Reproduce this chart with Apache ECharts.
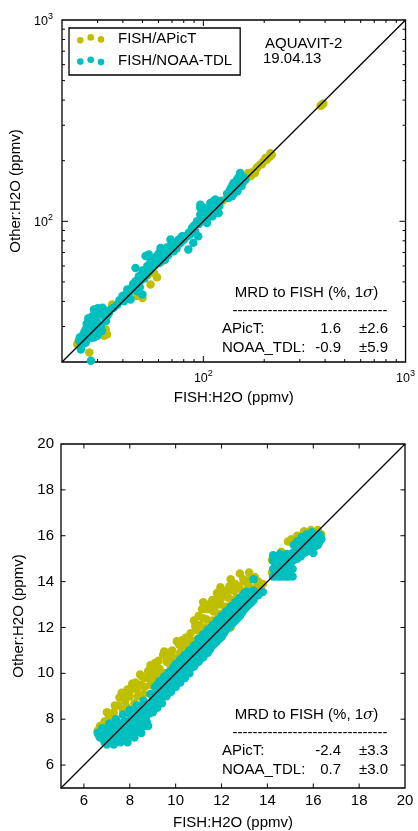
<!DOCTYPE html>
<html><head><meta charset="utf-8">
<script src="https://cdn.jsdelivr.net/npm/echarts@6/dist/echarts.min.js"></script>
<style>html,body{margin:0;padding:0;background:#fff}#c{width:418px;height:831px}</style>
</head><body><div id="c"></div>
<script>
// ---------------- data ----------------
const legendNames = ['FISH/APicT', 'FISH/NOAA-TDL'];
const campaign = ['AQUAVIT-2', '19.04.13'];
const xTitle = 'FISH:H2O (ppmv)';
const yTitle = 'Other:H2O (ppmv)';
const statTitle = 'MRD to FISH (%, 1';
const statNames = ['APicT:', 'NOAA_TDL:'];
const topStats = [[1.6, 2.6], [-0.9, 5.9]];
const bottomStats = [[-2.4, 3.3], [0.7, 3.0]];
const topRange = [20, 1000];
const bottomRange = [5, 20];
const topMajorTicks = [100];
const topMinorTicks = [30, 40, 50, 60, 70, 80, 90, 200, 300, 400, 500, 600, 700, 800, 900];
const bottomTicks = [6, 8, 10, 12, 14, 16, 18];

const topYellow = [
[23.8,24.5],[24.2,25.5],[27.3,22.3],[32.3,27.0],[33.4,27.4],[32.9,29.0],[35.4,38.6],[29,30],[26,27],
[40,41],[44,45],[47.2,42.5],[50,41.6],[54.8,48.6],[53,54],[57,55.4],[59,52.7],[62,63],[75,76],
[90,91],[105,106],[125,127],[150,151],[158,157],[164,164],[167,174],[170.4,170.5],[172,168],[176.8,176.5],
[180,174],[183,182.5],[185,186],[190.8,191],[195,192],[198,198],[203,206],[206,202],[210,208],
[213.7,210],[215,218],[218,214],[380,375],[386,378],[392,385]
];
const topCyan = [
[24.3,25.5],[25.2,27.0],[26.2,29.0],[27.3,31.0],[28.3,33.8],[28.8,36.5],[31.7,37.2],[27.8,26.4],
[29.9,27.0],[26.2,24.9],[24.8,24.0],[31.1,30.2],[32.3,33.8],[34.1,35.0],[36.0,37.2],[27.8,20.3],
[29.4,32.0],[25.5,25.8],[26.8,27.5],[28.5,29.5],[30.0,31.5],[27.0,33.0],[30.5,34.5],[24.8,23.1],
[31.5,28.5],[33.0,32.0],[29.0,28.0],[26.5,31.0],[32.5,36.0],[30.0,37.0],
[25.8,28.2],[27.5,28.8],[28.0,31.8],[29.5,34.0],[31.0,35.5],[33.5,34.0],[34.8,36.5],[26.0,26.0],
[28.8,26.5],[30.8,29.2],[25.0,25.0],[24.5,26.5],
[37.5,38.5],[38.5,40.5],[39.8,42.5],[40,41.5],[40.5,40.1],[41,43],[42.1,45.9],[43,44],[43.7,40.9],
[44,46],[44.6,47.4],[45,49],[46.2,50.3],[46.2,58.6],[47,48.5],[47.2,44.9],[48.0,53.4],[48.5,47],
[49,51],[50.0,43.3],[50,57],[50.8,55.4],[51,52],[52,54],[52.8,59.8],[53.5,56],[53.7,68.4],[51.8,67.2],
[54.8,63.4],[54.8,57.7],[55.5,59],[56,61],[57,63],[57.5,60.5],[58.0,66.2],[59,64],[60,69],[60.5,62],
[61.4,73.7],[62,66],[63,67],[63.4,72.4],[64.5,64.5],[65,70],[66,74],[67,68],[68,71],[68.8,81.1],
[69.5,77],[70,75],[71.4,71.0],[72.8,76.6],[73.5,73],[74,79],[75.6,81.1],[77,78],
[78.5,84.3],[80,81],[81.5,84.3],[83,84],[84.3,72.4],[85,88],[86,86],[87.9,90.9],[88,93],[89.2,78.3],
[90,95],[91,89],[92,97],[93.1,100],[94.3,84.3],[95,97],[96.6,107.9],[96.6,116.6],[96.6,120.9],[98,101],
[99,104],[100.4,116.6],[101,103],[102,112],[103,110],[104.3,98.0],[105,104],[106,108],[107,114],
[108.3,123.2],[109,117],[110.3,110.1],[111,106],[112,120],[112.4,125.8],[113,113],[114.6,128.2],
[115,116],[116.6,118.6],[117,124],[118,122],[119,110],[120,119],[121.3,126.0],
[131,137],[132,133],[133,130.5],[134,140],[135.8,143.6],[136,137],[137,146],[138.5,133],[139,150],
[140,142],[141,155],[142,138],[143,147],[144,152],[145,145],[146.5,161],[147.5,141],[148,152],
[149,165],[150,158],[151,152],[152,174],[153,160],[154.5,149.6],[156,156],[157,162],[158,166],[161,161]
];
const bottomYellow = [
[6.6,7.5],[6.7,7.7],[6.9,7.9],[7.0,8.3],[7.1,8.1],[7.2,7.6],[7.3,8.3],[7.35,8.6],[7.4,8.0],[7.5,8.6],
[7.55,8.95],[7.65,9.15],[7.7,8.4],[7.75,9.1],[7.8,8.8],[7.85,8.55],[7.9,9.3],[8.0,9.0],[8.05,9.3],
[8.1,9.55],[8.2,8.7],[8.25,9.6],[8.3,9.3],[8.35,9.0],[8.45,9.95],[8.5,9.5],[8.55,9.85],[8.6,9.1],
[8.65,9.4],[8.7,9.8],[8.8,10.1],[8.9,10.35],[8.9,9.5],[8.95,9.75],[9.0,10.0],[9.05,10.25],[9.1,10.45],
[9.2,9.8],[9.25,10.55],[9.3,10.2],[9.35,10.0],[9.45,10.8],[9.5,10.95],[9.5,10.0],[9.6,10.5],
[9.65,10.75],[9.7,10.9],[9.75,10.4],[9.8,10.3],[9.85,11.0],[9.9,10.7],[9.95,10.5],[10.05,11.4],
[10.1,10.5],[10.15,11.25],[10.2,10.9],[10.25,10.7],[10.3,11.45],[10.35,11.2],[10.4,10.8],
[10.45,11.55],[10.5,11.2],[10.55,10.95],[10.6,11.5],[10.65,11.75],[10.7,11.0],[10.75,11.3],
[10.8,12.3],[10.8,11.4],[10.85,12.05],[10.9,11.9],[10.95,11.5],[11.0,12.5],[11.0,11.2],[11.05,12.1],
[11.1,11.7],[11.15,12.8],[11.2,13.1],[11.2,12.4],[11.25,11.8],[11.3,12.0],[11.35,12.35],[11.4,12.8],
[11.45,13.0],[11.5,11.6],[11.55,12.0],[11.6,13.2],[11.6,12.3],[11.65,12.7],[11.7,12.9],[11.75,13.2],
[11.8,13.5],[11.8,12.1],[11.85,12.4],[11.9,12.6],[11.95,13.75],[11.95,13.0],[12.0,13.3],[12.05,13.6],
[12.1,12.4],[12.15,12.7],[12.2,12.9],[12.2,13.6],[12.25,13.4],[12.3,13.3],[12.35,13.8],[12.4,14.1],
[12.4,12.7],[12.4,12.0],[12.45,13.0],[12.5,13.2],[12.55,13.6],[12.6,13.9],[12.65,13.3],[12.7,13.0],
[12.75,13.8],[12.8,14.35],[12.85,13.3],[12.9,13.6],[12.95,14.1],[13.0,14.0],[13.05,13.6],[13.1,13.3],
[13.15,13.9],[13.2,14.4],[13.25,14.1],[13.3,13.7],[13.35,13.5],[13.45,14.2],[13.5,13.6],[13.55,13.8],
[13.6,14.0],[13.7,13.75],[13.8,13.9],
[14.2,14.95],[14.45,15.0],[14.9,15.75],[15.05,15.85],[15.3,16.0],[15.6,16.2],[15.9,16.25],[16.2,16.25],
[16.35,16.05],[14.6,15.3],[15.2,15.6],[16.3,15.8],[14.2,14.4],[15.0,15.0],[15.7,15.6]
];
const bottomCyan = [
[6.6,7.4],[6.65,7.3],[6.7,7.2],[6.75,7.45],[6.8,7.6],[6.8,7.3],[6.85,7.5],[6.9,7.0],[6.95,7.25],
[7.0,7.4],[7.0,6.9],[7.0,7.1],[7.05,7.6],[7.05,7.0],[7.1,7.8],[7.1,7.3],[7.15,7.0],[7.2,7.2],[7.2,7.5],
[7.25,7.35],[7.25,7.05],[7.3,6.9],[7.3,7.6],[7.35,7.75],[7.4,8.0],[7.4,7.4],[7.45,7.1],[7.45,7.85],
[7.5,7.3],[7.55,7.5],[7.55,7.05],[7.6,7.0],[7.6,7.7],[7.65,7.25],[7.7,8.2],[7.7,7.55],[7.75,7.9],
[7.8,7.4],[7.8,7.1],[7.85,7.15],[7.9,7.0],[7.9,7.9],[7.95,7.6],[8.0,8.4],[8.0,7.3],[8.05,8.15],
[8.05,7.8],[8.1,7.6],[8.15,7.35],[8.2,7.2],[8.2,8.1],[8.25,7.85],[8.3,8.6],[8.3,7.45],[8.3,8.1],
[8.35,8.35],[8.4,7.8],[8.4,8.55],[8.45,7.6],[8.5,7.4],[8.5,8.3],[8.55,8.05],[8.6,8.8],[8.6,7.7],
[8.65,8.55],[8.7,8.0],[8.7,8.3],[8.75,7.85],[8.8,7.7],[8.8,8.5],[8.85,8.25],[8.9,9.1],[8.95,8.65],
[9.0,8.3],[9.0,8.8],[9.1,8.65],[9.1,9.05],[9.1,9.4],[9.2,8.5],[9.2,9.0],[9.2,9.5],[9.3,8.85],
[9.3,9.25],[9.3,9.65],[9.4,8.7],[9.4,9.2],[9.4,9.7],[9.5,9.05],[9.5,9.45],[9.5,9.85],[9.6,9.0],
[9.6,9.4],[9.6,9.9],[9.7,9.2],[9.7,9.65],[9.7,10.05],[9.8,9.2],[9.8,9.7],[9.8,10.1],[9.9,9.45],
[9.9,9.85],[9.9,10.25],[10.0,9.4],[10.0,9.9],[10.0,10.4],[10.1,9.65],[10.1,10.05],[10.1,10.45],
[10.2,9.6],[10.2,10.1],[10.2,10.6],[10.3,9.85],[10.3,10.25],[10.3,10.65],[10.4,9.8],[10.4,10.3],
[10.4,10.8],[10.5,10.05],[10.5,10.45],[10.5,10.85],[10.6,10.0],[10.6,10.5],[10.6,11.0],[10.7,10.25],
[10.7,10.65],[10.7,11.05],[10.8,10.3],[10.8,10.7],[10.8,11.2],[10.9,10.45],[10.9,10.85],[10.9,11.25],
[11.0,10.5],[11.0,11.0],[11.0,11.5],[11.1,10.65],[11.1,11.05],[11.1,11.45],[11.2,10.7],[11.2,11.2],
[11.2,11.7],[11.3,10.85],[11.3,11.25],[11.3,11.65],[11.4,10.9],[11.4,11.4],[11.4,11.9],[11.5,11.05],
[11.5,11.45],[11.5,11.85],[11.6,11.2],[11.6,11.6],[11.6,12.1],[11.7,11.3],[11.7,11.7],[11.7,12.1],
[11.8,11.4],[11.8,11.8],[11.8,12.3],[11.9,11.5],[11.9,11.9],[11.9,12.3],[12.0,11.6],[12.0,12.0],
[12.0,12.5],[12.1,11.75],[12.1,12.15],[12.1,12.55],[12.2,11.9],[12.2,12.3],[12.2,12.7],[12.3,12.0],
[12.3,12.4],[12.3,12.75],[12.4,12.1],[12.4,12.5],[12.4,12.9],[12.5,12.2],[12.5,12.6],[12.5,12.95],
[12.6,12.3],[12.6,12.8],[12.6,13.1],[12.7,12.4],[12.7,12.8],[12.7,13.15],[12.8,12.5],[12.8,13.0],
[12.8,13.3],[12.9,12.65],[12.9,13.05],[12.9,13.35],[13.0,12.8],[13.0,13.2],[13.0,13.5],[13.1,12.9],
[13.1,13.25],[13.1,13.55],[13.2,13.0],[13.2,13.4],[13.3,13.1],[13.3,13.45],[13.4,13.2],[13.4,13.6],
[13.4,14.1],[13.6,13.4],[13.8,13.55],
[14.25,14.22],[14.25,14.55],[14.25,14.9],[14.25,15.15],[14.4,14.22],[14.4,14.4],[14.4,14.7],
[14.4,14.9],[14.4,15.05],[14.55,14.22],[14.55,14.55],[14.55,14.9],[14.55,15.2],[14.7,14.22],
[14.7,14.35],[14.7,14.55],[14.7,14.7],[14.7,14.9],[14.7,15.1],[14.85,14.22],[14.85,14.55],
[14.85,14.9],[14.85,15.2],[14.95,14.22],[14.95,14.4],[14.95,14.75],[15.0,14.95],[15.0,15.05],
[15.1,14.22],[15.1,14.55],[15.1,14.9],[15.1,15.25],[15.2,15.2],[15.25,15.35],
[15.3,15.0],[15.3,15.4],[15.3,15.75],[15.4,15.35],[15.4,15.7],[15.45,15.1],[15.5,15.2],[15.5,15.55],
[15.5,15.95],[15.6,15.25],[15.6,15.5],[15.6,15.85],[15.7,15.3],[15.7,15.7],[15.7,16.05],[15.8,15.35],
[15.8,15.6],[15.8,16.0],[15.9,15.45],[15.9,15.85],[15.9,16.1],[15.95,16.15],[16.0,15.5],[16.0,15.75],
[16.1,15.55],[16.1,15.9],[16.2,15.6],[16.2,15.9],[16.25,15.7],[16.25,16.05],[16.3,16.0],[16.35,15.85],
[15.15,15.6],[16.0,15.25]
];

// ---------------- chart ----------------
const FONT = 'Liberation Sans, Arial, sans-serif';
const YEL = '#BFBF00', CYA = '#00BFBF';
const chart = echarts.init(document.getElementById('c'), null, {renderer: 'canvas'});

function logFmt(v) {
  const e = Math.log10(v), r = Math.round(e);
  return (Math.abs(e - r) < 1e-6 && r >= 2) ? '{b|10}{s|' + r + '}' : '';
}
const logRich = {
  b: {fontSize: 12.5, fontFamily: FONT, color: '#000', lineHeight: 16, verticalAlign: 'bottom'},
  s: {fontSize: 9, fontFamily: FONT, color: '#000', lineHeight: 8, verticalAlign: 'top'}
};
function linFmt(v) {
  const r = Math.round(v);
  return (r % 2 === 0 && r > bottomRange[0]) ? String(r) : '';
}
const nameStyle = {fontSize: 15, fontFamily: FONT, color: '#000'};

function tickSeries(xi, values, len, range) {
  return {
    type: 'custom', xAxisIndex: xi, yAxisIndex: xi, silent: true, z: 6, clip: false,
    data: values.map(v => [v, v]),
    renderItem(params, api) {
      const v = api.value(0);
      const b = api.coord([v, range[0]]), t = api.coord([v, range[1]]);
      const l = api.coord([range[0], v]), r = api.coord([range[1], v]);
      const st = {stroke: '#000', lineWidth: 1};
      return {type: 'group', children: [
        {type: 'line', shape: {x1: b[0], y1: b[1], x2: b[0], y2: b[1] - len}, style: st},
        {type: 'line', shape: {x1: t[0], y1: t[1], x2: t[0], y2: t[1] + len}, style: st},
        {type: 'line', shape: {x1: l[0], y1: l[1], x2: l[0] + len, y2: l[1]}, style: st},
        {type: 'line', shape: {x1: r[0], y1: r[1], x2: r[0] - len, y2: r[1]}, style: st}
      ]};
    }
  };
}
function scatter(idx, name, data, color) {
  return {type: 'scatter', name: name, xAxisIndex: idx, yAxisIndex: idx, data: data,
    symbolSize: 8.5, itemStyle: {color: color, opacity: 1}, z: 2, silent: true, large: false};
}
function diag(idx, range) {
  return {type: 'line', xAxisIndex: idx, yAxisIndex: idx, data: [[range[0], range[0]], [range[1], range[1]]],
    showSymbol: false, symbol: 'none', lineStyle: {color: '#000', width: 1.3}, z: 4, silent: true};
}

function txt(x, y, text, align) {
  return {type: 'text', x: x, y: y, z: 100,
    style: {text: text, font: '15px ' + FONT, fill: '#000',
      textAlign: align || 'left', textVerticalAlign: 'middle', align: align || 'left', verticalAlign: 'middle'}};
}
function statBlock(stats, y0) {
  const els = [];
  els.push({type: 'text', x: 306.5, y: y0, z: 100, style: {
    text: '{a|' + statTitle + '}{i|σ}{a|)}',
    rich: {a: {fontSize: 15, fontFamily: FONT, fill: '#000', color: '#000'},
           i: {fontSize: 15, fontFamily: 'DejaVu Serif', fontStyle: 'italic', fill: '#000', color: '#000'}},
    textAlign: 'center', textVerticalAlign: 'middle', align: 'center', verticalAlign: 'middle'}});
  els.push(txt(310, y0 + 18, '-------------------------------', 'center'));
  stats.forEach((s, i) => {
    const y = y0 + 36 + i * 18.5;
    els.push(txt(222, y, statNames[i], 'left'));
    els.push(txt(341, y, s[0].toFixed(1), 'right'));
    els.push(txt(359, y, '±' + s[1].toFixed(1), 'left'));
  });
  return els;
}

const dot3a = 'path://M0 0M36 10M0 6.3a3.3 3.3 0 1 0 6.6 0a3.3 3.3 0 1 0 -6.6 0M10.4 3.4a3.3 3.3 0 1 0 6.6 0a3.3 3.3 0 1 0 -6.6 0M20.7 5.4a3.3 3.3 0 1 0 6.6 0a3.3 3.3 0 1 0 -6.6 0Z';
const dot3b = 'path://M0 0M36 10M0 5.6a3.3 3.3 0 1 0 6.6 0a3.3 3.3 0 1 0 -6.6 0M10.4 3.8a3.3 3.3 0 1 0 6.6 0a3.3 3.3 0 1 0 -6.6 0M20.7 6.1a3.3 3.3 0 1 0 6.6 0a3.3 3.3 0 1 0 -6.6 0Z';

const option = {
  animation: false,
  backgroundColor: '#fff',
  textStyle: {fontFamily: FONT},
  grid: [
    {left: 62, top: 20, width: 344, height: 342, show: true, borderColor: '#000', borderWidth: 1.3, backgroundColor: 'transparent'},
    {left: 61, top: 444, width: 344, height: 344, show: true, borderColor: '#000', borderWidth: 1.3, backgroundColor: 'transparent'}
  ],
  legend: {
    left: 69, top: 28, orient: 'vertical', padding: [2, 8, 5, 8], itemGap: 4,
    itemWidth: 36, itemHeight: 10, borderColor: '#000', borderWidth: 1.3, backgroundColor: '#fff',
    textStyle: {fontSize: 15, fontFamily: FONT, color: '#000', lineHeight: 18},
    selectedMode: false,
    data: [{name: legendNames[0], icon: dot3a}, {name: legendNames[1], icon: dot3b}]
  },
  xAxis: [
    {type: 'log', logBase: 10, gridIndex: 0, min: topRange[0], max: topRange[1],
      axisLine: {show: false}, axisTick: {show: false}, splitLine: {show: false}, minorTick: {show: false},
      axisLabel: {formatter: logFmt, rich: logRich, margin: 7, color: '#000', showMinLabel: true, showMaxLabel: true},
      name: xTitle, nameLocation: 'middle', nameGap: 28, nameTextStyle: nameStyle},
    {type: 'value', gridIndex: 1, min: bottomRange[0], max: bottomRange[1], interval: 1,
      axisLine: {show: false}, axisTick: {show: false}, splitLine: {show: false},
      axisLabel: {formatter: linFmt, margin: 5, color: '#000', fontSize: 15, fontFamily: FONT, showMinLabel: true, showMaxLabel: true},
      name: xTitle, nameLocation: 'middle', nameGap: 27, nameTextStyle: nameStyle}
  ],
  yAxis: [
    {type: 'log', logBase: 10, gridIndex: 0, min: topRange[0], max: topRange[1],
      axisLine: {show: false}, axisTick: {show: false}, splitLine: {show: false}, minorTick: {show: false},
      axisLabel: {formatter: logFmt, rich: logRich, margin: 9, color: '#000', showMinLabel: true, showMaxLabel: true},
      name: yTitle, nameLocation: 'middle', nameGap: 39, nameTextStyle: nameStyle},
    {type: 'value', gridIndex: 1, min: bottomRange[0], max: bottomRange[1], interval: 1,
      axisLine: {show: false}, axisTick: {show: false}, splitLine: {show: false},
      axisLabel: {formatter: linFmt, margin: 7, color: '#000', fontSize: 15, fontFamily: FONT, showMinLabel: true, showMaxLabel: true},
      name: yTitle, nameLocation: 'middle', nameGap: 31, nameTextStyle: nameStyle}
  ],
  series: [
    scatter(0, legendNames[0], topYellow, YEL),
    scatter(0, legendNames[1], topCyan, CYA),
    diag(0, topRange),
    tickSeries(0, topMajorTicks, 6, topRange),
    tickSeries(0, topMinorTicks, 3, topRange),
    scatter(1, legendNames[0], bottomYellow, YEL),
    scatter(1, legendNames[1], bottomCyan, CYA),
    diag(1, bottomRange),
    tickSeries(1, bottomTicks, 4.5, bottomRange)
  ],
  graphic: [
    txt(265, 43.5, campaign[0], 'left'),
    txt(263, 59, campaign[1], 'left')
  ].concat(statBlock(topStats, 293)).concat(statBlock(bottomStats, 715))
};
chart.setOption(option);
</script>
</body></html>
